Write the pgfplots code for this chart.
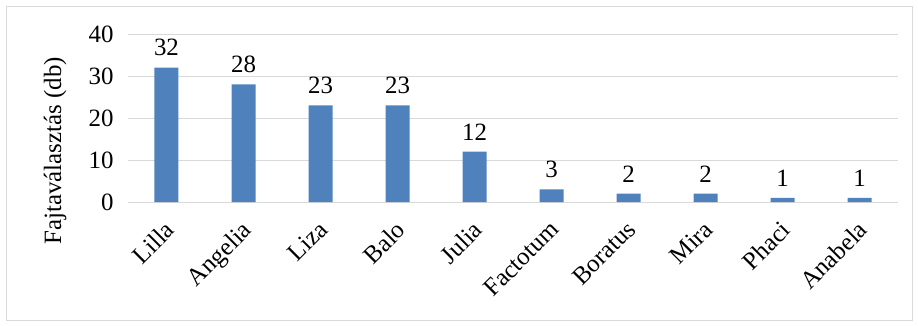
\documentclass[border=0pt]{standalone}
\usepackage{pgfplots}
\pgfplotsset{compat=1.18}
\usepackage{fontspec}
\setmainfont{Liberation Serif}
\definecolor{barblue}{HTML}{4F81BD}
\definecolor{gridgray}{HTML}{D9D9D9}
\begin{document}
\begin{tikzpicture}
\fontsize{25}{29}\selectfont
\path (-128bp,-124bp) rectangle (790bp,202bp);
\draw[gridgray, line width=0.8bp] (-122bp,-118bp) rectangle (784bp,196bp);
\begin{axis}[
  at={(0,0)}, anchor=south west,
  scale only axis, width=770bp, height=168bp,
  ybar, bar width=24bp,
  xmin=-0.5, xmax=9.5, ymin=0, ymax=40,
  ytick={0,10,20,30,40},
  xtick={0,...,9},
  xticklabels={Lilla,Angelia,Liza,Balo,Julia,Factotum,Boratus,Mira,Phaci,Anabela},
  xticklabel style={xshift=-3bp, yshift=-16bp, rotate=45, anchor=north east, inner sep=1bp},
  yticklabel style={xshift=-6bp},
  /pgf/number format/assume math mode=true,
  tick label style={font=\fontsize{25}{29}\selectfont},
  major tick length=0pt,
  axis x line*=bottom, axis y line*=left,
  x axis line style={gridgray, line width=1bp, -},
  y axis line style={draw=none},
  ymajorgrids, grid style={gridgray, line width=1bp},
  ylabel={Fajtaválasztás (db)},
  ylabel style={at={(axis description cs:-0.0948,0.304)}, anchor=center, rotate=0, font=\fontsize{25}{29}\selectfont},
  nodes near coords,
  nodes near coords style={font=\fontsize{25}{29}\selectfont, anchor=south, yshift=3bp},
  clip=false,
]
\addplot[fill=barblue, draw=none] coordinates {(0,32) (1,28) (2,23) (3,23) (4,12) (5,3) (6,2) (7,2) (8,1) (9,1)};
\end{axis}
\end{tikzpicture}
\end{document}
